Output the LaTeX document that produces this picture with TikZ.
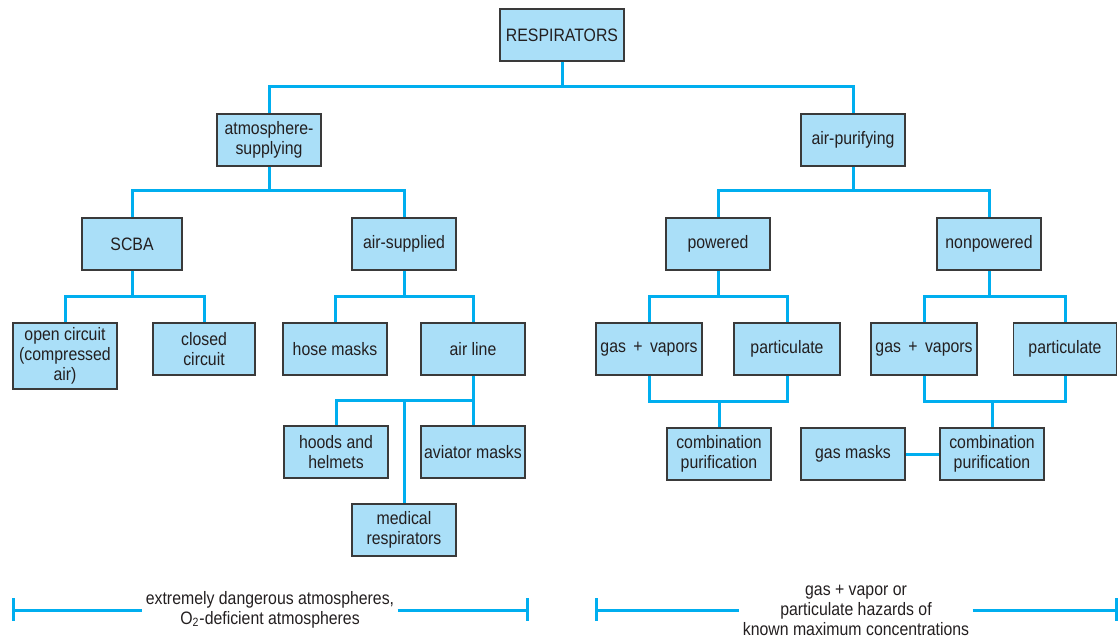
\documentclass[tikz,border=0pt]{standalone}
\usepackage{fontspec}
\setmainfont{Liberation Sans}[FakeStretch=0.88]
\usepackage{xcolor}
\definecolor{boxfill}{HTML}{AADFF8}
\definecolor{linkblue}{HTML}{00AEEF}
\definecolor{boxdraw}{HTML}{3A3A3A}
\definecolor{txt}{HTML}{231F20}

\begin{document}
\begin{tikzpicture}[
  x=0.5pt, y=-0.5pt,
  font=\fontsize{9}{10}\selectfont,
  kind/.style={
    rectangle, draw=boxdraw, line width=0.7pt, fill=boxfill, text=txt,
    minimum width=52pt, minimum height=26pt, align=center, inner sep=1pt},
  link/.style={draw=linkblue, line width=1.5pt},
  span/.style={draw=linkblue, line width=1.5pt},
  note/.style={text=txt, align=center, inner sep=1.5pt},
]
\useasboundingbox (0,0) rectangle (1118,637);

% ---- Root and first split ----
\node[kind, minimum width=62pt] (resp) at (562,35) {RESPIRATORS};
\node[kind] (atm) at (269,140) {atmosphere-\\supplying};
\node[kind] (apur) at (853,140) {air-purifying};

% ---- Second level ----
\node[kind, minimum width=50pt] (scba) at (132,244) {SCBA};
\node[kind] (asup) at (404,244) {air-supplied};
\node[kind] (pow) at (718,244) {powered};
\node[kind] (npow) at (989,244) {nonpowered};

% ---- Atmosphere-supplying leaves ----
\node[kind, minimum height=33pt] (open) at (65,356) {open circuit\\(compressed\\air)};
\node[kind, minimum width=51pt] (closed) at (204,349) {closed\\circuit};
\node[kind] (hose) at (335,349) {hose masks};
\node[kind] (aline) at (473,349) {air line};
\node[kind] (hood) at (336,452) {hoods and\\helmets};
\node[kind] (avi) at (473,452) {aviator masks};
\node[kind] (med) at (404,530) {medical\\respirators};

% ---- Air-purifying leaves ----
\node[kind, minimum width=53pt] (pgas) at (649,349) {gas \,+\, vapors};
\node[kind, minimum width=53pt] (ppart) at (787,349) {particulate};
\node[kind] (pcomb) at (719,454) {combination\\purification};
\node[kind, minimum width=53pt] (ngas) at (924,349) {gas \,+\, vapors};
\node[kind, minimum width=51.5pt] (npart) at (1065,349) {particulate};
\node[kind] (ncomb) at (992,454) {combination\\purification};
\node[kind] (gmask) at (853,454) {gas masks};

% ---- Junctions ----
\coordinate (j0) at (562,86);
\coordinate (j1) at (269,190);
\coordinate (j2) at (853,190);
\coordinate (j3) at (132,296);
\coordinate (j4) at (404,296);
\coordinate (j5) at (718,296);
\coordinate (j6) at (989,296);
\coordinate (j7) at (473,400);
\coordinate (j8) at (404,400);
\coordinate (m1) at (719,401);
\coordinate (m2) at (992,401);

% ---- Tree edges ----
\draw[link] (resp.south) -- (j0);
\draw[link] (atm.north) |- (j0) -| (apur.north);
\draw[link] (atm.south) -- (j1);
\draw[link] (scba.north) |- (j1) -| (asup.north);
\draw[link] (apur.south) -- (j2);
\draw[link] (pow.north) |- (j2) -| (npow.north);
\draw[link] (scba.south) -- (j3);
\draw[link] (open.north) |- (j3) -| (closed.north);
\draw[link] (asup.south) -- (j4);
\draw[link] (hose.north) |- (j4) -| (aline.north);
\draw[link] (pow.south) -- (j5);
\draw[link] (pgas.north) |- (j5) -| (ppart.north);
\draw[link] (npow.south) -- (j6);
\draw[link] (ngas.north) |- (j6) -| (npart.north);
\draw[link] (aline.south) -- (avi.north);
\draw[link] (j7) -| (hood.north);
\draw[link] (j8) -- (med.north);

% ---- Merging edges ----
\draw[link] (pgas.south) |- (m1) -| (ppart.south);
\draw[link] (m1) -- (pcomb.north);
\draw[link] (ngas.south) |- (m2) -| (npart.south);
\draw[link] (m2) -- (ncomb.north);
\draw[link] (gmask) -- (ncomb);

% ---- Hazard ranges (bottom) ----
\node[note] (rangeL) at (270,610)
  {extremely dangerous atmospheres,\\O\textsubscript{2}-deficient atmospheres};
\node[note] (rangeR) at (856,610)
  {gas + vapor or\\particulate hazards of\\known maximum concentrations};
\coordinate (endL1) at (13,610);
\coordinate (endL2) at (527,610);
\coordinate (endR1) at (596,610);
\coordinate (endR2) at (1116,610);
\draw[span] (endL1) -- (rangeL) -- (endL2);
\draw[span] (endR1) -- (rangeR) -- (endR2);
\foreach \x in {13,527,596,1116}
  \draw[span] (\x,598) -- (\x,621);

\end{tikzpicture}
\end{document}
